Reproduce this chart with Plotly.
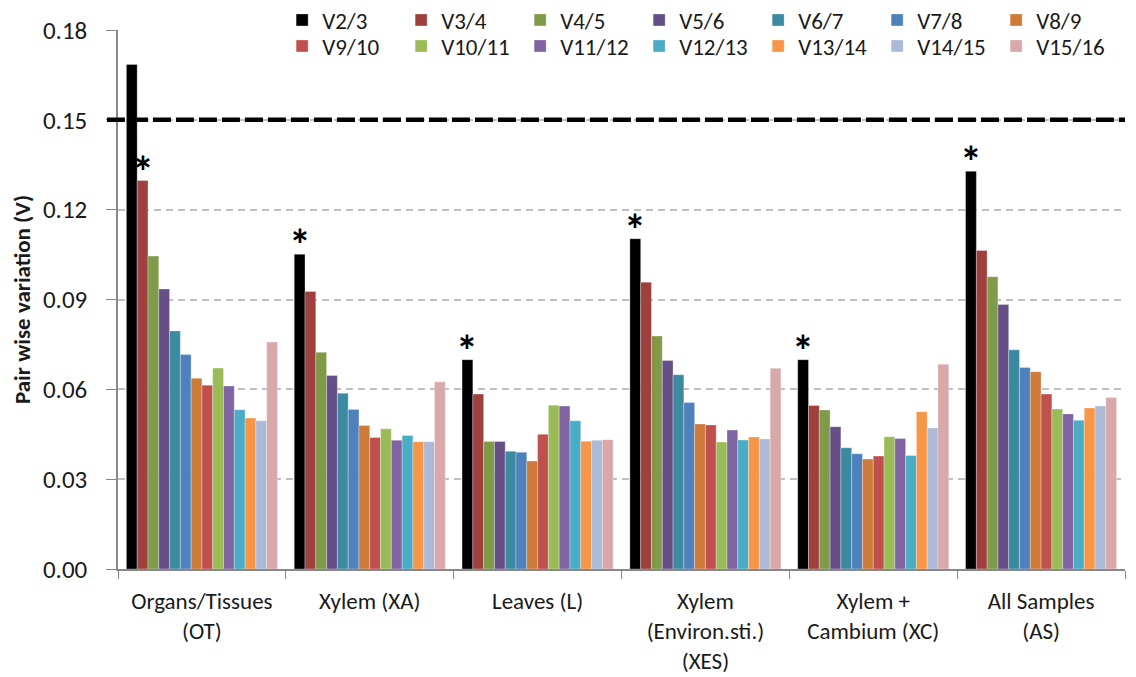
import plotly.graph_objects as go

categories = ["Organs/Tissues<br>(OT)", "Xylem (XA)", "Leaves (L)",
              "Xylem<br>(Environ.sti.)<br>(XES)", "Xylem +<br>Cambium (XC)", "All Samples<br>(AS)"]
series_names = ["V2/3", "V3/4", "V4/5", "V5/6", "V6/7", "V7/8", "V8/9",
                "V9/10", "V10/11", "V11/12", "V12/13", "V13/14", "V14/15", "V15/16"]
colors = ["#000000", "#9E413E", "#7F9A48", "#664F86", "#3B8A9F", "#4F81BD", "#CC7B38",
          "#C0504D", "#9BBB59", "#8064A2", "#4BACC6", "#F79646", "#AABAD7", "#D9A8A8"]

# values per group (rows: OT, XA, L, XES, XC, AS); columns: V2/3 ... V15/16
OT = [0.1685, 0.1297, 0.1045, 0.0935, 0.0795, 0.0716, 0.0637, 0.0614, 0.0671, 0.0611, 0.0532, 0.0504, 0.0495, 0.0758]
XA = [0.1051, 0.0927, 0.0724, 0.0646, 0.0587, 0.0533, 0.0479, 0.0439, 0.0468, 0.0430, 0.0446, 0.0425, 0.0425, 0.0625]
L = [0.0699, 0.0584, 0.0426, 0.0426, 0.0393, 0.0390, 0.0361, 0.0450, 0.0547, 0.0544, 0.0495, 0.0427, 0.0430, 0.0432]
XES = [0.1103, 0.0958, 0.0778, 0.0696, 0.0649, 0.0556, 0.0484, 0.0481, 0.0424, 0.0464, 0.0431, 0.0441, 0.0434, 0.0670]
XC = [0.0699, 0.0546, 0.0531, 0.0475, 0.0405, 0.0385, 0.0367, 0.0377, 0.0442, 0.0436, 0.0379, 0.0525, 0.0471, 0.0684]
AS = [0.1328, 0.1064, 0.0976, 0.0883, 0.0732, 0.0673, 0.0659, 0.0584, 0.0534, 0.0518, 0.0497, 0.0538, 0.0544, 0.0573]
groups = [OT, XA, L, XES, XC, AS]

threshold = 0.15
# (group index, series index) of bars marked with an asterisk
star_marks = [(0, 1), (1, 0), (2, 0), (3, 0), (4, 0), (5, 0)]

FONT = "Carlito, Calibri, Lato, sans-serif"
BARGAP = 0.1
n = len(series_names)
W, H = 1128, 669

fig = go.Figure()
for i, name in enumerate(series_names):
    fig.add_trace(go.Bar(
        x=categories,
        y=[g[i] for g in groups],
        name=name,
        marker=dict(color=colors[i], line=dict(color="rgba(255,255,255,0.6)", width=0.5)),
        legend="legend" if i < 7 else "legend2",
    ))

fig.add_shape(type="line", xref="paper", yref="y", x0=-0.011, x1=1, y0=threshold, y1=threshold,
              line=dict(color="black", width=4.5, dash="18px,5px"), layer="above")

for gi, si in star_marks:
    xpos = gi - (1 - BARGAP) / 2 + (si + 0.5) * (1 - BARGAP) / n
    fig.add_annotation(x=xpos, y=groups[gi][si], xref="x", yref="y", text="<b>*</b>",
                       showarrow=False, yanchor="bottom", yshift=-20,
                       font=dict(size=44, color="black", family=FONT))

legend_common = dict(orientation="h", entrywidth=74, entrywidthmode="pixels",
                     font=dict(size=23, family=FONT, color="#1a1a1a"),
                     bgcolor="rgba(0,0,0,0)", xanchor="left", yanchor="middle",
                     tracegroupgap=0, itemclick=False)

fig.update_layout(
    width=W, height=H,
    margin=dict(l=110, r=11, t=22, b=108, autoexpand=False),
    paper_bgcolor="white", plot_bgcolor="white",
    barmode="group", bargap=BARGAP, bargroupgap=0,
    font=dict(family=FONT, color="#1a1a1a"),
    legend=dict(x=0.163, y=1 - 12 / H, yref="container", **legend_common),
    legend2=dict(x=0.163, y=1 - 38 / H, yref="container", **legend_common),
    xaxis=dict(type="category", tickson="boundaries", ticks="outside", ticklen=8,
               tickcolor="#888888", showline=True, linecolor="#888888", linewidth=1.5,
               showgrid=False, tickfont=dict(size=23, family=FONT, color="#1a1a1a"),
               ticklabelstandoff=11),
    yaxis=dict(range=[0, 0.18], dtick=0.03, tickformat=".2f", ticks="outside", ticklen=10,
               tickcolor="#888888", showline=True, linecolor="#888888", linewidth=1.5,
               showgrid=True, gridcolor="#BFBFBF", griddash="7px,5px", gridwidth=1.5,
               zeroline=False, tickfont=dict(size=25, family=FONT, color="#1a1a1a"),
               ticklabelstandoff=14,
               title=dict(text="<b>Pair wise variation (V)</b>", font=dict(size=23, family=FONT),
                          standoff=6)),
)

fig.write_html("out.html")
